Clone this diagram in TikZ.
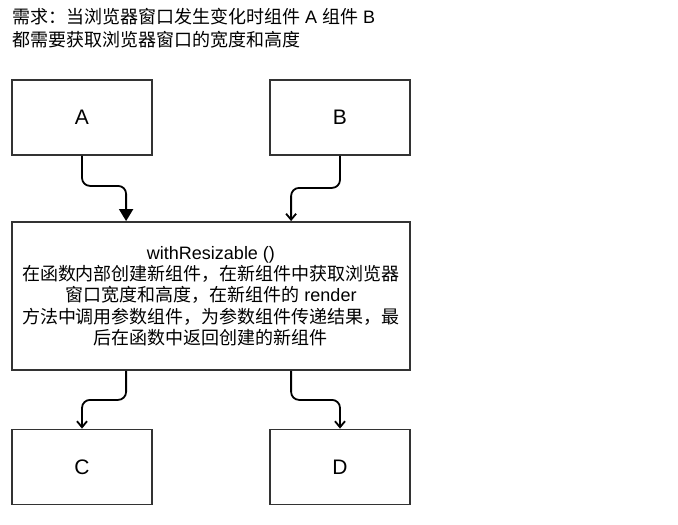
\documentclass[tikz,border=0pt]{standalone}
\usepackage{fontspec}
\setmainfont{Liberation Sans}
\newfontfamily\cjk{Noto Sans CJK SC}
\usetikzlibrary{arrows.meta,calc}

\definecolor{edge}{HTML}{333333}

\tikzset{
  box/.style={draw=edge, line width=1.8pt, fill=white, minimum width=140pt,
    minimum height=75pt, inner sep=0pt, font=\fontsize{21}{25}\selectfont},
  flow/.style={draw=black, line width=1.8pt, rounded corners=8pt},
  blockhead/.style={flow, -{Triangle[width=14pt,length=12pt]}},
  openhead/.style={flow, -{Straight Barb[width=10pt,length=6pt]}},
}

\begin{document}
\begin{tikzpicture}[x=1pt, y=-1pt]
  \useasboundingbox (0,0) rectangle (678,525);

  % requirement statement
  \node[anchor=north west, inner sep=0pt, align=left,
        font=\fontsize{18}{22.5}\selectfont] (req) at (12,8.5)
    {{\cjk 需求：当浏览器窗口发生变化时组件} A {\cjk 组件} B\\
     {\cjk 都需要获取浏览器窗口的宽度和高度}};

  % components
  \node[box] (A) at (82,117.5) {A};
  \node[box] (B) at (340,117.5) {B};
  \node[box] (C) at (82,467) {C};
  \node[box] (D) at (340,467) {D};

  % higher-order component
  \node[box, minimum width=398pt, minimum height=148pt, align=center,
        font=\fontsize{18}{21.3}\selectfont] (M) at (211,296)
    {withResizable ()\\
     {\cjk 在函数内部创建新组件，在新组件中获取浏览器}\\
     {\cjk 窗口宽度和高度，在新组件的} render\\
     {\cjk 方法中调用参数组件，为参数组件传递结果，最}\\
     {\cjk 后在函数中返回创建的新组件}};

  % connectors
  \draw[blockhead] (A.south) -- ++(0,30) -| ($(M.north west)+(115,0)$);
  \draw[openhead]  (B.south) -- ++(0,32) -| ($(M.north west)+(280,0)$);
  \draw[openhead]  ($(M.south west)+(115,0)$) -- ++(0,29) -| (C.north);
  \draw[openhead]  ($(M.south west)+(280,0)$) -- ++(0,29) -| (D.north);
\end{tikzpicture}
\end{document}
